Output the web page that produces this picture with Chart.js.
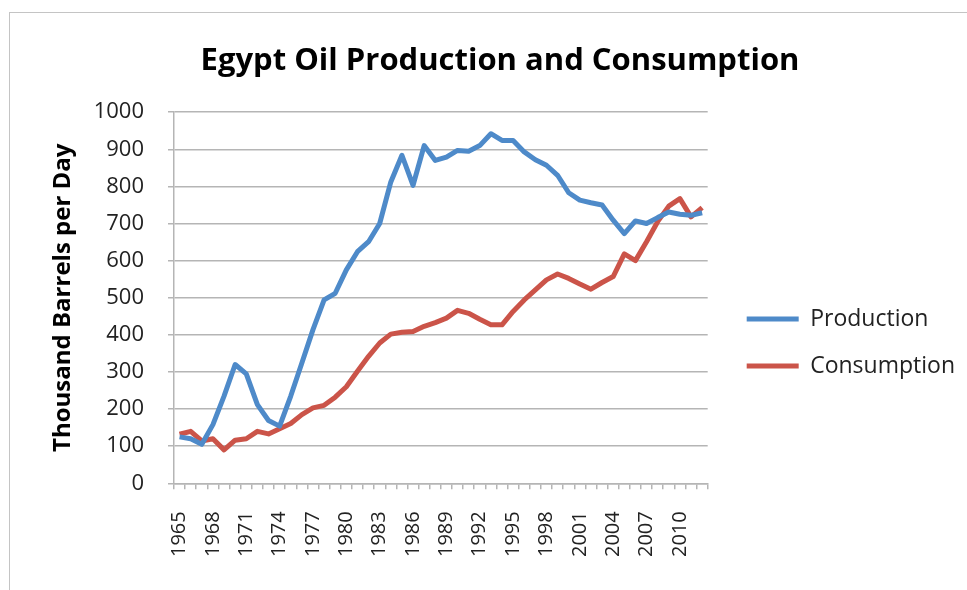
<!DOCTYPE html>
<html>
<head>
<meta charset="utf-8">
<script src="https://cdn.jsdelivr.net/npm/chart.js@4/dist/chart.umd.min.js"></script>
<style>
    html, body { margin: 0; padding: 0; background: #fff; overflow: hidden; }
    #frame { position: absolute; left: 9px; top: 12px; width: 1200px; height: 800px; border: 1px solid #c4c4c4; }
    #wrap { position: absolute; left: 0; top: 0; width: 967px; height: 590px; }
</style>
</head>
<body>
<div id="frame"></div>
<div id="wrap"><canvas id="oilChart" width="967" height="590"></canvas></div>
<script>
// ===== DATA =====
const years = [
    '1965', '1966', '1967', '1968', '1969', '1970', '1971', '1972', '1973', '1974',
    '1975', '1976', '1977', '1978', '1979', '1980', '1981', '1982', '1983', '1984',
    '1985', '1986', '1987', '1988', '1989', '1990', '1991', '1992', '1993', '1994',
    '1995', '1996', '1997', '1998', '1999', '2000', '2001', '2002', '2003', '2004',
    '2005', '2006', '2007', '2008', '2009', '2010', '2011', '2012'
];
// thousand barrels per day
const production = [
    125, 120, 105, 158, 235, 320, 295, 212, 169, 154,
    235, 324, 414, 494, 512, 575, 624, 651, 700, 812,
    884, 803, 910, 870, 879, 897, 895, 910, 942, 924,
    924, 893, 872, 857, 830, 783, 763, 756, 750, 709,
    673, 707, 700, 716, 731, 725, 722, 729
];
const consumption = [
    132, 140, 114, 120, 90, 116, 120, 140, 133, 147,
    161, 185, 203, 210, 232, 260, 302, 342, 378, 402,
    407, 409, 423, 433, 445, 466, 458, 442, 427, 427,
    463, 494, 521, 548, 564, 552, 537, 523, 541, 557,
    618, 600, 651, 705, 747, 767, 718, 743
];
const yTicks = [0, 100, 200, 300, 400, 500, 600, 700, 800, 900, 1000];

const FONT = "'Open Sans', 'Noto Sans', sans-serif";
const GRID = '#b5b5b5';
const PAD_LEFT = 35;

// ---- Chart ----
const ctx = document.getElementById('oilChart');
new Chart(ctx, {
    type: 'line',
    data: {
        labels: years,
        datasets: [
            { label: 'Production', data: production, borderColor: '#4E8AC9', backgroundColor: '#4E8AC9', borderWidth: 5, pointRadius: 0, tension: 0, borderJoinStyle: 'round' },
            { label: 'Consumption', data: consumption, borderColor: '#CB5449', backgroundColor: '#CB5449', borderWidth: 5, pointRadius: 0, tension: 0, borderJoinStyle: 'round' },
        ]
    },
    options: {
        responsive: false, animation: false,
        layout: { padding: { left: PAD_LEFT, right: 2, top: 43, bottom: 11 } },
        plugins: {
            title: {
                display: true, text: 'Egypt Oil Production and Consumption', color: '#000',
                font: { family: FONT, size: 31, weight: 'bold' }, padding: { top: 0, bottom: 32 }
            },
            legend: {
                position: 'right', maxWidth: 320,
                // empty title only pushes the items down
                title: { display: true, text: '', font: { size: 10 }, padding: { top: 25, bottom: 26 } },
                labels: {
                    color: '#222', font: { family: FONT, size: 23 },
                    usePointStyle: true, pointStyle: 'line', pointStyleWidth: 52, padding: 24
                }
            },
            tooltip: { enabled: false }
        },
        scales: {
            x: {
                offset: true,
                grid: { display: true, offset: true, drawOnChartArea: false, drawTicks: true, tickLength: 6, color: GRID, lineWidth: 1.5 },
                border: { display: true, color: GRID, width: 1.5 },
                ticks: {
                    autoSkip: false, minRotation: 90, maxRotation: 90, padding: 22,
                    color: '#222', font: { family: FONT, size: 20 },
                    callback: (v, i) => (i % 3 === 0 ? years[i] : '')
                }
            },
            y: {
                min: yTicks[0], max: yTicks[yTicks.length - 1],
                afterBuildTicks: s => { s.ticks = yTicks.map(v => ({ value: v })); },
                afterFit: s => { s.width = 174 - PAD_LEFT; },
                grid: { color: GRID, lineWidth: 1.5, tickLength: 6 },
                border: { display: true, color: GRID, width: 1.5 },
                ticks: { color: '#222', font: { family: FONT, size: 22 }, padding: 24, callback: v => String(v) },
                title: {
                    display: true, text: 'Thousand Barrels per Day', color: '#000',
                    font: { family: FONT, size: 24, weight: 'bold' }, padding: { top: 14, bottom: 1 }
                }
            },
            // spacer between the plot and the legend
            gap: {
                position: 'right', display: true, min: 0, max: 1,
                grid: { display: false }, border: { display: false }, ticks: { display: false },
                afterFit: s => { s.width = 15; }
            }
        }
    }
});
</script>
</body>
</html>
